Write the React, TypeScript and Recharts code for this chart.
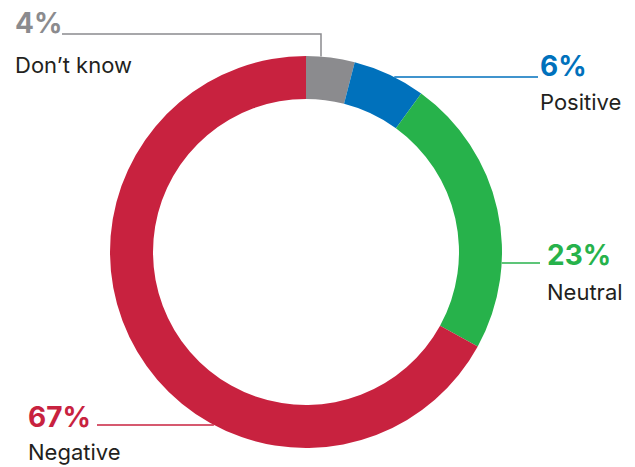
import { PieChart, Pie, Cell } from "recharts";

const categories = ["Don’t know", "Positive", "Neutral", "Negative"];
const shares = [4, 6, 23, 67];
const colors = ["#8b8b8e", "#0071bc", "#27b24b", "#c8223f"];

const data = categories.map((name, i) => ({ name, value: shares[i] }));

// label placement: text x, baselines, leader line y, line end x
const layout = [
  { x: 15, pctY: 33, nameY: 73, lineY: 34, lineFrom: 62, elbow: 15 },
  { x: 540, pctY: 76, nameY: 110, lineY: 77, lineTo: 538 },
  { x: 547, pctY: 265, nameY: 300, lineY: 263, lineTo: 540 },
  { x: 28, pctY: 427, nameY: 460, lineY: 425, lineFrom: 97 },
];

const CX = 306;
const CY = 252;
const OUTER = 196;
const INNER = 153;

// eslint-disable-next-line @typescript-eslint/no-explicit-any
function renderLabel(props: any) {
  const { cx, cy, outerRadius, index } = props;
  const l = layout[index];
  const color = colors[index];
  const ringX = (y: number, sign: number) =>
    cx + sign * Math.sqrt(Math.max(0, outerRadius * outerRadius - (y - cy) * (y - cy)));
  let line;
  if (l.elbow !== undefined) {
    const ex = cx + l.elbow;
    const ey = cy - Math.sqrt(outerRadius * outerRadius - l.elbow * l.elbow);
    line = (
      <polyline
        points={`${l.lineFrom},${l.lineY} ${ex},${l.lineY} ${ex},${ey}`}
        fill="none"
        stroke={color}
        strokeWidth={1.5}
      />
    );
  } else if (l.lineTo !== undefined) {
    line = <line x1={ringX(l.lineY, 1)} y1={l.lineY} x2={l.lineTo} y2={l.lineY} stroke={color} strokeWidth={1.5} />;
  } else {
    line = <line x1={l.lineFrom} y1={l.lineY} x2={ringX(l.lineY, -1)} y2={l.lineY} stroke={color} strokeWidth={1.5} />;
  }
  return (
    <g>
      {line}
      <text x={l.x} y={l.pctY} fill={color} fontSize={28} fontWeight={700} fontFamily="Inter, sans-serif">
        {shares[index]}%
      </text>
      <text x={l.x} y={l.nameY} fill="#231f20" fontSize={22} fontFamily="Inter, sans-serif">
        {categories[index]}
      </text>
    </g>
  );
}

export default function App() {
  return (
    <div style={{ position: "absolute", left: 0, top: 0, width: 635, height: 467, background: "#fff" }}>
      <PieChart width={635} height={467} margin={{ top: 0, right: 0, bottom: 0, left: 0 }}>
        <Pie
          data={data}
          dataKey="value"
          nameKey="name"
          cx={CX}
          cy={CY}
          outerRadius={OUTER}
          innerRadius={INNER}
          startAngle={90}
          endAngle={-270}
          stroke="none"
          label={renderLabel}
          labelLine={false}
          isAnimationActive={false}
        >
          {data.map((d, i) => (
            <Cell key={d.name} fill={colors[i]} />
          ))}
        </Pie>
      </PieChart>
    </div>
  );
}
